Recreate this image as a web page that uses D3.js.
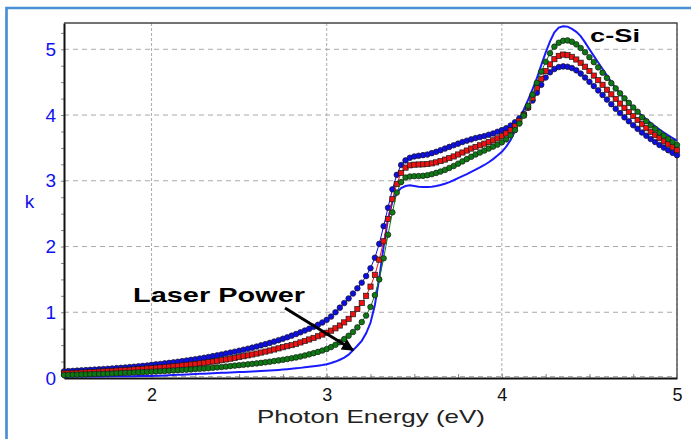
<!DOCTYPE html>
<html>
<head>
<meta charset="utf-8">
<script src="https://cdn.jsdelivr.net/npm/d3@7/dist/d3.min.js"></script>
<style>
body { margin: 0; background: #fff; }
svg { display: block; font-family: "Liberation Sans", Arial, sans-serif; }
</style>
</head>
<body>
<svg></svg>
<script>
const width = 691;
const height = 439;
const margin = { top: 23, right: 14, bottom: 61, left: 64 };

// photon energy grid, 1.5 to 5.0 eV every 0.025 eV
const energy = d3.range(141).map(i => +(1.5 + i * 0.025).toFixed(3));

// extinction coefficient k
const kBlue = [
	0.100,0.104,0.108,0.112,0.116,0.120,0.124,0.128,0.132,0.136,0.140,
	0.145,0.150,0.155,0.160,0.166,0.172,0.178,0.184,0.190,0.200,
	0.207,0.214,0.222,0.230,0.238,0.247,0.256,0.266,0.276,0.286,
	0.297,0.308,0.320,0.332,0.345,0.358,0.372,0.386,0.400,0.415,
	0.430,0.446,0.462,0.479,0.497,0.515,0.534,0.554,0.575,0.597,
	0.620,0.644,0.669,0.695,0.722,0.750,0.779,0.809,0.845,0.885,
	0.935,1.000,1.070,1.140,1.210,1.285,1.365,1.450,1.550,1.670,
	1.830,2.040,2.310,2.590,2.870,3.090,3.240,3.310,3.350,3.370,
	3.380,3.390,3.400,3.420,3.440,3.465,3.490,3.515,3.540,3.565,
	3.590,3.610,3.630,3.650,3.665,3.680,3.700,3.720,3.745,3.770,
	3.800,3.840,3.890,3.950,4.020,4.110,4.220,4.340,4.460,4.570,
	4.650,4.700,4.730,4.740,4.735,4.715,4.680,4.630,4.570,4.505,
	4.440,4.375,4.305,4.235,4.165,4.095,4.030,3.965,3.905,3.845,
	3.790,3.735,3.685,3.635,3.590,3.545,3.505,3.465,3.425,3.390
];
const kRed = [
	0.070,0.073,0.076,0.079,0.082,0.085,0.088,0.092,0.096,0.100,0.104,
	0.108,0.112,0.116,0.120,0.125,0.130,0.135,0.140,0.145,0.150,
	0.155,0.160,0.166,0.172,0.178,0.185,0.192,0.199,0.206,0.214,
	0.222,0.231,0.240,0.250,0.260,0.271,0.282,0.294,0.306,0.318,
	0.331,0.344,0.358,0.372,0.387,0.402,0.418,0.434,0.451,0.468,
	0.484,0.500,0.520,0.541,0.563,0.586,0.610,0.635,0.661,0.688,
	0.720,0.756,0.798,0.846,0.900,0.970,1.050,1.140,1.250,1.390,
	1.570,1.800,2.080,2.420,2.720,2.950,3.120,3.200,3.235,3.245,
	3.248,3.250,3.255,3.265,3.280,3.300,3.322,3.345,3.370,3.400,
	3.430,3.460,3.490,3.515,3.540,3.565,3.590,3.615,3.645,3.680,
	3.720,3.770,3.830,3.910,4.000,4.120,4.260,4.410,4.550,4.670,
	4.770,4.850,4.900,4.920,4.910,4.885,4.845,4.795,4.735,4.670,
	4.600,4.530,4.460,4.385,4.315,4.245,4.175,4.110,4.045,3.985,
	3.925,3.860,3.800,3.745,3.695,3.650,3.600,3.555,3.510,3.465
];
const kGreen = [
	0.045,0.047,0.049,0.051,0.053,0.055,0.057,0.059,0.061,0.063,0.065,
	0.068,0.071,0.074,0.077,0.080,0.083,0.086,0.089,0.092,0.095,
	0.099,0.103,0.107,0.111,0.115,0.119,0.123,0.127,0.131,0.135,
	0.140,0.145,0.150,0.156,0.162,0.168,0.174,0.181,0.188,0.195,
	0.201,0.208,0.215,0.222,0.230,0.239,0.248,0.258,0.268,0.278,
	0.289,0.300,0.313,0.327,0.343,0.360,0.378,0.397,0.418,0.440,
	0.470,0.505,0.545,0.592,0.643,0.700,0.770,0.850,0.950,1.080,
	1.260,1.500,1.820,2.180,2.520,2.820,2.980,3.050,3.065,3.070,
	3.072,3.075,3.085,3.100,3.120,3.140,3.165,3.195,3.225,3.260,
	3.295,3.330,3.365,3.400,3.430,3.460,3.490,3.520,3.550,3.585,
	3.630,3.690,3.770,3.870,3.990,4.140,4.310,4.490,4.660,4.810,
	4.940,5.040,5.100,5.130,5.135,5.115,5.075,5.020,4.955,4.880,
	4.805,4.725,4.645,4.565,4.485,4.405,4.330,4.255,4.185,4.115,
	4.050,3.965,3.905,3.845,3.790,3.735,3.685,3.635,3.590,3.545
];
const kCSi = [
	0.020,0.020,0.021,0.021,0.022,0.022,0.023,0.023,0.024,0.024,0.025,
	0.025,0.026,0.026,0.027,0.028,0.028,0.029,0.030,0.031,0.032,
	0.034,0.036,0.039,0.042,0.045,0.048,0.051,0.054,0.057,0.060,
	0.063,0.066,0.069,0.072,0.075,0.078,0.081,0.084,0.087,0.090,
	0.093,0.096,0.099,0.102,0.106,0.110,0.114,0.118,0.123,0.128,
	0.134,0.140,0.147,0.154,0.162,0.170,0.179,0.188,0.198,0.210,
	0.228,0.250,0.278,0.310,0.355,0.420,0.490,0.565,0.680,0.840,
	1.110,1.520,2.000,2.420,2.680,2.820,2.890,2.920,2.930,2.920,
	2.910,2.905,2.905,2.910,2.920,2.935,2.955,2.980,3.008,3.040,
	3.070,3.100,3.135,3.170,3.205,3.240,3.282,3.330,3.383,3.440,
	3.520,3.620,3.760,3.930,4.080,4.230,4.390,4.560,4.760,4.950,
	5.120,5.260,5.330,5.350,5.345,5.310,5.265,5.200,5.105,5.000,
	4.900,4.800,4.700,4.600,4.500,4.410,4.325,4.250,4.180,4.110,
	4.050,3.990,3.935,3.880,3.830,3.780,3.735,3.690,3.650,3.610
];

const xTicks = [2, 3, 4, 5];
const yTicks = [0, 1, 2, 3, 4, 5];

const x = d3.scaleLinear().domain([1.5, 5]).range([margin.left, width - margin.right]);
const y = d3.scaleLinear().domain([0, 5.4]).range([height - margin.bottom, margin.top]);

const svg = d3.select("svg")
	.attr("width", width)
	.attr("height", height);

svg.append("rect")
	.attr("width", width)
	.attr("height", height)
	.attr("fill", "#fff");

// blue outer frame (top and left only)
svg.append("path")
	.attr("d", `M6.5,${height + 5}V8H${width + 5}`)
	.attr("fill", "none")
	.attr("stroke", "#4a8fd6")
	.attr("stroke-width", 2.7);

// grid
svg.append("g")
	.selectAll("line")
	.data(yTicks)
	.join("line")
	.attr("x1", margin.left)
	.attr("x2", width - margin.right)
	.attr("y1", d => y(d) - (d === 0 ? 1.5 : 0))
	.attr("y2", d => y(d) - (d === 0 ? 1.5 : 0))
	.attr("stroke", "#aaa")
	.attr("stroke-width", 1)
	.attr("stroke-dasharray", "5,4");

svg.append("g")
	.selectAll("line")
	.data(xTicks)
	.join("line")
	.attr("x1", d => x(d))
	.attr("x2", d => x(d))
	.attr("y1", margin.top)
	.attr("y2", height - margin.bottom)
	.attr("stroke", "#aaa")
	.attr("stroke-width", 1)
	.attr("stroke-dasharray", "3,2");

// top and right frame
svg.append("path")
	.attr("d", `M${margin.left},${margin.top}H${width - margin.right}V${height - margin.bottom}`)
	.attr("fill", "none")
	.attr("stroke", "#444")
	.attr("stroke-width", 1.3);

// minor ticks
svg.append("g")
	.attr("transform", `translate(0,${height - margin.bottom})`)
	.call(d3.axisBottom(x).tickValues(d3.range(1.75, 5, 0.25)).tickSize(-4).tickFormat(""))
	.call(g => g.select(".domain").remove())
	.call(g => g.selectAll(".tick line").attr("stroke", "#888"));

svg.append("g")
	.attr("transform", `translate(${margin.left},0)`)
	.call(d3.axisLeft(y).tickValues(d3.range(0.25, 5.4, 0.25)).tickSize(3).tickFormat(""))
	.call(g => g.select(".domain").remove())
	.call(g => g.selectAll(".tick line").attr("stroke", "#888"));

// axes
const xAxis = svg.append("g")
	.attr("transform", `translate(0,${height - margin.bottom})`)
	.call(d3.axisBottom(x).tickValues(xTicks).tickSize(0).tickPadding(10).tickFormat(d3.format("d")));
xAxis.select(".domain").attr("stroke", "#111").attr("stroke-width", 2);
xAxis.selectAll("text")
	.attr("font-size", 18)
	.attr("font-family", "Liberation Sans, Arial, sans-serif")
	.attr("fill", "#111");

const yAxis = svg.append("g")
	.attr("transform", `translate(${margin.left},0)`)
	.call(d3.axisLeft(y).tickValues(yTicks).tickSize(0).tickPadding(8).tickFormat(d3.format("d")));
yAxis.select(".domain").attr("stroke", "#111").attr("stroke-width", 2);
yAxis.selectAll("text")
	.attr("font-size", 19)
	.attr("font-family", "Liberation Sans, Arial, sans-serif")
	.attr("fill", "#1010f0");

// axis titles
svg.append("text")
	.attr("x", 257)
	.attr("y", 423)
	.attr("font-size", 19)
	.attr("textLength", 228)
	.attr("lengthAdjust", "spacingAndGlyphs")
	.attr("fill", "#222")
	.text("Photon Energy (eV)");

svg.append("text")
	.attr("x", 29.5)
	.attr("y", 208)
	.attr("text-anchor", "middle")
	.attr("font-size", 19)
	.attr("fill", "#1010f0")
	.text("k");

// c-Si reference curve
const line = d3.line()
	.x((d, i) => x(energy[i]))
	.y(d => y(d));

svg.append("path")
	.datum(kCSi)
	.attr("fill", "none")
	.attr("stroke", "#1a1aff")
	.attr("stroke-width", 2)
	.attr("d", line);

// laser-treated samples, drawn as dotted lines
const series = [
	{ values: kBlue, color: "#0d0de8", shape: "circle" },
	{ values: kRed, color: "#f01010", shape: "square" },
	{ values: kGreen, color: "#0c7a12", shape: "circle" }
];

series.forEach(s => {
	svg.append("path")
		.datum(s.values)
		.attr("fill", "none")
		.attr("stroke", s.color)
		.attr("stroke-width", 1)
		.attr("d", line);

	const g = svg.append("g");
	if (s.shape === "circle") {
		g.selectAll("circle")
			.data(s.values)
			.join("circle")
			.attr("cx", (d, i) => x(energy[i]))
			.attr("cy", d => y(d))
			.attr("r", 2.8)
			.attr("fill", s.color)
			.attr("stroke", "#1a1a1a")
			.attr("stroke-width", 0.7);
	} else {
		g.selectAll("rect")
			.data(s.values)
			.join("rect")
			.attr("x", (d, i) => x(energy[i]) - 2.6)
			.attr("y", d => y(d) - 2.6)
			.attr("width", 5.2)
			.attr("height", 5.2)
			.attr("fill", s.color)
			.attr("stroke", "#1a1a1a")
			.attr("stroke-width", 0.7);
	}
});

// annotations
svg.append("text")
	.attr("x", 133)
	.attr("y", 301.5)
	.attr("font-size", 21)
	.attr("font-weight", 900)
	.attr("textLength", 172)
	.attr("lengthAdjust", "spacingAndGlyphs")
	.attr("fill", "#000")
	.text("Laser Power");

svg.append("text")
	.attr("x", 590)
	.attr("y", 41.7)
	.attr("font-size", 17.5)
	.attr("font-weight", 900)
	.attr("textLength", 50)
	.attr("lengthAdjust", "spacingAndGlyphs")
	.attr("fill", "#000")
	.text("c-Si");

svg.append("defs")
	.append("marker")
	.attr("id", "head")
	.attr("viewBox", "0 0 10 10")
	.attr("refX", 9)
	.attr("refY", 5)
	.attr("markerWidth", 4.5)
	.attr("markerHeight", 4)
	.attr("markerUnits", "strokeWidth")
	.attr("orient", "auto")
	.append("path")
	.attr("d", "M0,0L10,5L0,10z")
	.attr("fill", "#000");

svg.append("line")
	.attr("x1", 285)
	.attr("y1", 308)
	.attr("x2", 353)
	.attr("y2", 350)
	.attr("stroke", "#000")
	.attr("stroke-width", 3)
	.attr("marker-end", "url(#head)");
</script>
</body>
</html>
